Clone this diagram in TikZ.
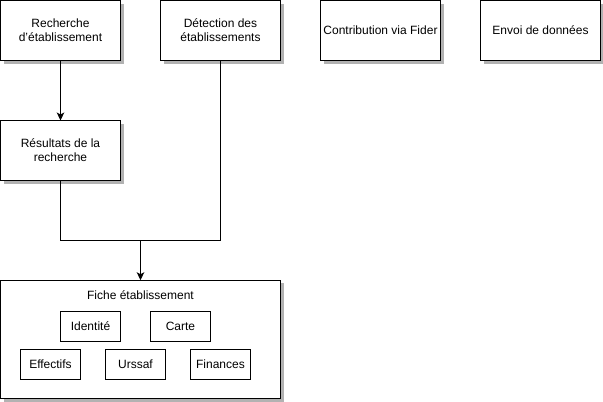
\documentclass[tikz,border=0pt]{standalone}
\usepackage{fontspec}
\setmainfont{Liberation Sans}
\usetikzlibrary{arrows.meta,shadows}
\begin{document}
\begin{tikzpicture}[x=1pt,y=-1pt,
  every node/.style={font=\fontsize{12}{14}\selectfont, inner sep=0pt, outer sep=0pt},
  shad/.style={drop shadow={shadow xshift=3pt, shadow yshift=-3pt, fill=black!30, opacity=1}},
  bigbox/.style={draw, line width=1pt, fill=white, shad, minimum width=120pt, minimum height=60pt, align=center},
  smallbox/.style={draw, line width=0.9pt, fill=white, minimum width=60pt, minimum height=30pt, align=center},
  conn/.style={line width=1pt},
  arr/.style={line width=1pt, -{Stealth[length=8pt,width=7.5pt,inset=2pt]}}]
\useasboundingbox (0,0) rectangle (603,402);
\node[bigbox] (rech) at (60.5,30.5) {Recherche\\d'établissement};
\node[bigbox] (det) at (220.5,30.5) {Détection des\\établissements};
\node[bigbox] (contrib) at (380.5,30.5) {Contribution via Fider};
\node[bigbox] (envoi) at (540.5,30.5) {Envoi de données};
\node[bigbox] (res) at (60.5,150.5) {Résultats de la\\recherche};
\node[draw, line width=1pt, fill=white, shad, minimum width=280pt, minimum height=118.5pt] (fiche) at (140.5,339.5) {};
\node (fichetitle) at (140.5,295) {Fiche établissement};
\node[smallbox] (ident) at (90.5,326) {Identité};
\node[smallbox] (carte) at (180.5,326) {Carte};
\node[smallbox] (eff) at (50.5,364) {Effectifs};
\node[smallbox] (urssaf) at (135.5,364) {Urssaf};
\node[smallbox] (fin) at (220.5,364) {Finances};
\coordinate (j) at (140.5,240.5);
\draw[arr] (rech.south) -- (res.north);
\draw[conn] (res.south) |- (j);
\draw[conn] (det.south) |- (j);
\draw[arr] (j) -- (fiche.north);
\end{tikzpicture}
\end{document}
